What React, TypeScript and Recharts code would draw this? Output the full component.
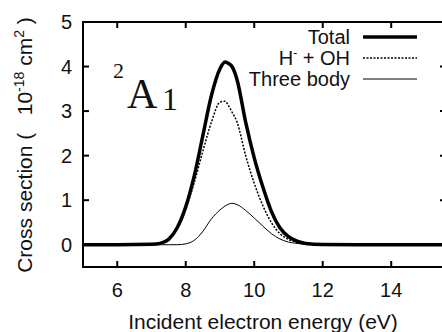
import React from "react";
import { LineChart, Line, XAxis, YAxis, Customized } from "recharts";

// energy grid (eV) and cross sections (1e-18 cm^2)
const energies = [5, 6, 7, 7.25, 7.5, 7.75, 8, 8.25, 8.5, 8.75, 9, 9.15, 9.25, 9.35, 9.5, 9.75, 10, 10.25, 10.5, 10.75, 11, 11.25, 11.5, 12, 13, 14, 15.6];
const totalCs = [0, 0, 0.01, 0.03, 0.12, 0.38, 0.85, 1.55, 2.45, 3.35, 3.95, 4.1, 4.07, 4.0, 3.7, 2.75, 1.95, 1.3, 0.75, 0.38, 0.18, 0.08, 0.03, 0.005, 0, 0, 0];
const hMinusOhCs = [0, 0, 0.01, 0.03, 0.12, 0.37, 0.8, 1.4, 2.1, 2.75, 3.2, 3.22, 3.12, 2.98, 2.75, 2.0, 1.38, 0.88, 0.5, 0.25, 0.12, 0.05, 0.02, 0, 0, 0, 0];
const threeBodyCs = [0, 0, 0, 0, 0, 0, 0.02, 0.1, 0.3, 0.58, 0.78, 0.87, 0.91, 0.93, 0.9, 0.77, 0.6, 0.42, 0.25, 0.13, 0.06, 0.03, 0.01, 0, 0, 0, 0];

const xDomain = [5, 15.6];
const yDomain = [-0.5, 5];
const xTicks = [6, 8, 10, 12, 14];
const yTicks = [0, 1, 2, 3, 4, 5];

const data = energies.map((e, i) => ({
  energy: e,
  total: totalCs[i],
  hoh: hMinusOhCs[i],
  three: threeBodyCs[i],
}));

const W = 460;
const H = 332;
const MARGIN = { top: 22, right: 14, left: 0, bottom: 0 };
const Y_AXIS_W = 83;
const X_AXIS_H = 65;
const PLOT_X = MARGIN.left + Y_AXIS_W;
const PLOT_Y = MARGIN.top;
const PLOT_W = W - MARGIN.left - MARGIN.right - Y_AXIS_W;
const PLOT_H = H - MARGIN.top - MARGIN.bottom - X_AXIS_H;

const FONT = "'Liberation Sans', Arial, Helvetica, sans-serif";
const SERIF = "'Liberation Serif', 'Times New Roman', serif";
const INK = "#111";

function BottomTick(props: any) {
  return (
    <text x={props.x} y={Number(props.y) + 30} textAnchor="middle" fontSize={20} fontFamily={FONT} fill={INK}>
      {props.payload.value}
    </text>
  );
}

function LeftTick(props: any) {
  return (
    <text x={Number(props.x) - 11} y={Number(props.y) + 7} textAnchor="end" fontSize={20} fontFamily={FONT} fill={INK}>
      {props.payload.value}
    </text>
  );
}

// gnuplot-style box with inward ticks on all four sides
function Frame() {
  const sx = (v: number) => PLOT_X + ((v - xDomain[0]) / (xDomain[1] - xDomain[0])) * PLOT_W;
  const sy = (v: number) => PLOT_Y + ((yDomain[1] - v) / (yDomain[1] - yDomain[0])) * PLOT_H;
  const bottom = PLOT_Y + PLOT_H;
  const right = PLOT_X + PLOT_W;
  return (
    <g stroke="#000" strokeWidth={2} fill="none">
      <rect x={PLOT_X} y={PLOT_Y} width={PLOT_W} height={PLOT_H} />
      {xTicks.map((t) => (
        <g key={`x${t}`}>
          <line x1={sx(t)} x2={sx(t)} y1={bottom} y2={bottom - 6} />
          <line x1={sx(t)} x2={sx(t)} y1={PLOT_Y} y2={PLOT_Y + 6} />
        </g>
      ))}
      {yTicks.map((t) => (
        <g key={`y${t}`}>
          <line x1={PLOT_X} x2={PLOT_X + 6} y1={sy(t)} y2={sy(t)} />
          <line x1={right} x2={right - 6} y1={sy(t)} y2={sy(t)} />
        </g>
      ))}
    </g>
  );
}

const legendRows = [
  { key: "total", width: 3.5, dash: undefined as string | undefined },
  { key: "hoh", width: 1.5, dash: "2 1.5" },
  { key: "three", width: 1, dash: undefined as string | undefined },
];

function Annotations() {
  return (
    <g>
      <Frame />
      <text transform="rotate(-90)" x={-145} y={32} textAnchor="middle" fontSize={21} fontFamily={FONT} fill={INK} style={{ whiteSpace: "pre" }}>
        {"Cross section (   10"}
        <tspan dy={-8} fontSize={14}>-18</tspan>
        <tspan dy={8}> cm</tspan>
        <tspan dy={-8} fontSize={14}>2</tspan>
        <tspan dy={8}>{" )"}</tspan>
      </text>
      <text x={263} y={329} textAnchor="middle" fontSize={21} fontFamily={FONT} fill={INK}>
        Incident electron energy (eV)
      </text>
      <text x={113} y={78} fontSize={22} fontFamily={SERIF} fill={INK}>2</text>
      <text x={127} y={108} fontSize={42} fontFamily={SERIF} fill={INK}>A</text>
      <text x={162} y={110} fontSize={32} fontFamily={SERIF} fill={INK}>1</text>

      <g fontFamily={FONT} fontSize={20} fill={INK} textAnchor="end">
        <text x={350} y={44}>Total</text>
        <text x={350} y={65}>
          H<tspan dy={-8} fontSize={12}>-</tspan>
          <tspan dy={8}> + OH</tspan>
        </text>
        <text x={350} y={86}>Three body</text>
      </g>
      {legendRows.map((r, i) => (
        <line key={r.key} x1={363} x2={417} y1={37 + i * 21} y2={37 + i * 21} stroke="#000" strokeWidth={r.width} strokeDasharray={r.dash} />
      ))}
    </g>
  );
}

export default function App() {
  return (
    <div style={{ position: "absolute", left: 0, top: 0, width: 442, height: 332, overflow: "hidden", background: "#fff" }}>
      <LineChart width={W} height={H} data={data} margin={MARGIN}>
        <XAxis
          dataKey="energy"
          type="number"
          domain={xDomain}
          ticks={xTicks}
          height={X_AXIS_H}
          tickSize={0}
          tickMargin={0}
          tickLine={false}
          tick={<BottomTick />}
          axisLine={false}
        />
        <YAxis
          type="number"
          domain={yDomain}
          ticks={yTicks}
          width={Y_AXIS_W}
          tickSize={0}
          tickMargin={0}
          tickLine={false}
          tick={<LeftTick />}
          axisLine={false}
        />
        <Line type="monotone" dataKey="three" stroke="#000" strokeWidth={1} dot={false} isAnimationActive={false} />
        <Line type="monotone" dataKey="hoh" stroke="#000" strokeWidth={1.5} strokeDasharray="2 1.5" dot={false} isAnimationActive={false} />
        <Line type="monotone" dataKey="total" stroke="#000" strokeWidth={3.5} dot={false} isAnimationActive={false} />
        <Customized component={<Annotations />} />
      </LineChart>
    </div>
  );
}
